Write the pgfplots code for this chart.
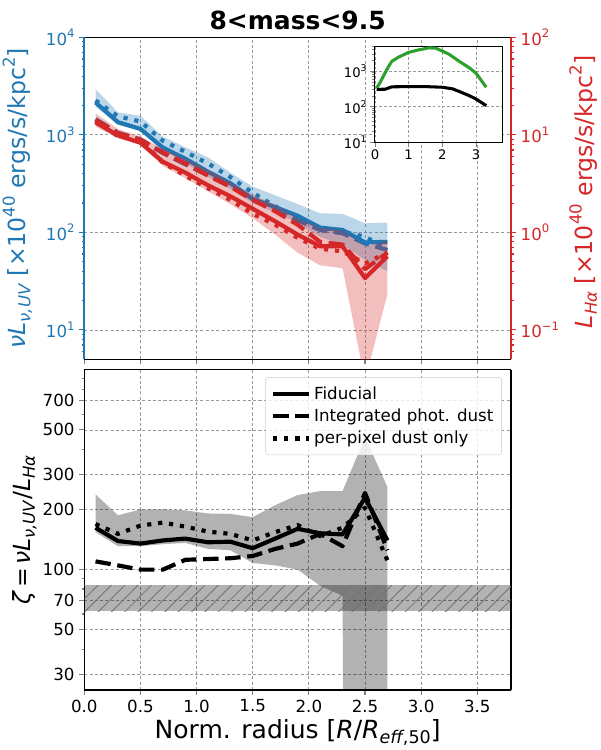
\documentclass[border=0pt]{standalone}
\usepackage{fontspec}
\setmainfont{DejaVu Sans}
\usepackage{pgfplots}
\pgfplotsset{compat=1.18}
\usetikzlibrary{patterns.meta}
\definecolor{tblue}{HTML}{1F77B4}
\definecolor{tred}{HTML}{D62728}
\definecolor{tgreen}{HTML}{2CA02C}
\newcommand\tickfont{\fontsize{12}{14}\selectfont}
\newcommand\labfont{\fontsize{17}{20}\selectfont}
\newcommand\xlabfont{\fontsize{18}{21}\selectfont}
\newcommand\insfont{\fontsize{9.5}{11}\selectfont}
% mathtext-like scripts
\newcommand\lsup[1]{\raisebox{0.45em}{\fontsize{11.9}{12}\selectfont #1}}
\newcommand\lsub[1]{\raisebox{-0.2em}{\fontsize{11.9}{12}\selectfont #1}}
\newcommand\xsub[1]{\raisebox{-0.2em}{\fontsize{12.6}{13}\selectfont #1}}
\newcommand\tsup[1]{\raisebox{0.45em}{\fontsize{8.4}{9}\selectfont #1}}
\newcommand\isup[1]{\raisebox{0.45em}{\fontsize{6.7}{7}\selectfont #1}}
\pgfplotsset{
  common/.style={scale only axis, width=307.2pt, xmin=0, xmax=3.8,
    tick align=outside, major tick length=3.5pt, minor tick length=2pt,
    every tick/.append style={line width=0.8pt},
    /pgf/number format/assume math mode=true,
    tick label style={font=\tickfont},
    separate axis lines,
    axis line style={line width=0.8pt},
    grid style={dash pattern=on 2.2pt off 1.6pt, line width=0.55pt, black!40},
    every axis plot/.append style={line join=round},
  },
  sol/.style={line width=3pt},
  dsh/.style={line width=3pt, dash pattern=on 11.1pt off 4.8pt},
  dot/.style={line width=3pt, dash pattern=on 3pt off 4.95pt},
}
\begin{document}
\begin{tikzpicture}
\path[use as bounding box] (0,0) rectangle (432pt,540pt);

% ---------------- top panel, left (blue) axis
\begin{axis}[common, at={(60.7pt,281.3pt)}, anchor=south west, height=231.8pt,
  ymode=log, ymin=5, ymax=10000,
  xtick={0,0.5,1,1.5,2,2.5,3,3.5}, xticklabels={},
  ytick={10,100,1000,10000},
  yticklabels={10\tsup{1},10\tsup{2},10\tsup{3},10\tsup{4}},
  minor ytick={6,7,8,9,20,30,40,50,60,70,80,90,200,300,400,500,600,700,800,900,2000,3000,4000,5000,6000,7000,8000,9000},
  ytick pos=left, xtick pos=bottom, grid=major,
  y axis line style={draw=tblue, line width=1.5pt},
  every y tick/.append style={draw=tblue},
  yticklabel style={text=tblue},
  ylabel={\textit{νL}\lsub{\textit{ν,UV}} [×10\lsup{40} ergs/s/kpc\lsup{2}]},
  ylabel style={at={(axis description cs:-0.1566,0.5)}, anchor=center, rotate=0, font=\labfont, text=tblue},
  title={8<mass<9.5},
  title style={at={(axis description cs:0.5,0.998)}, anchor=base, font={\fontsize{18}{21}\selectfont\bfseries}},
]
\addplot[draw=none, fill=tblue, fill opacity=0.3, forget plot] coordinates {
(0.1,2950)(0.3,1700)(0.5,1570)(0.7,960)(0.9,745)(1.1,590)(1.3,410)(1.5,295)(1.7,240)(1.9,195)(2.1,157)(2.3,155)(2.5,124)(2.7,126)
(2.7,40)(2.5,52)(2.3,75)(2.1,90)(1.9,125)(1.7,160)(1.5,200)(1.3,280)(1.1,374)(0.9,513)(0.7,700)(0.5,1100)(0.3,1265)(0.1,1950)};
\addplot[sol, tblue] coordinates {
(0.1,2150)(0.3,1350)(0.5,1150)(0.7,740)(0.9,570)(1.1,420)(1.3,320)(1.5,220)(1.7,182)(1.9,148)(2.1,112)(2.3,106)(2.5,79)(2.7,80)};
\addplot[dsh, tblue] coordinates {
(0.1,1450)(0.3,1050)(0.5,900)(0.7,650)(0.9,500)(1.1,385)(1.3,295)(1.5,220)(1.7,172)(1.9,133)(2.1,106)(2.3,98)(2.5,77)(2.7,66)};
\addplot[dot, tblue] coordinates {
(0.1,2250)(0.3,1550)(0.5,1370)(0.7,870)(0.9,670)(1.1,510)(1.3,370)(1.5,255)(1.7,185)(1.9,142)(2.1,112)(2.3,102)(2.5,90)(2.7,69)};
\end{axis}

% ---------------- top panel, right (red) axis
\begin{axis}[common, at={(60.7pt,281.3pt)}, anchor=south west, height=231.8pt,
  ymode=log, ymin=0.05, ymax=100,
  axis x line=none, axis y line*=right,
  ytick={0.1,1,10,100},
  yticklabels={10\tsup{−1},10\tsup{0},10\tsup{1},10\tsup{2}},
  minor ytick={0.06,0.07,0.08,0.09,0.2,0.3,0.4,0.5,0.6,0.7,0.8,0.9,2,3,4,5,6,7,8,9,20,30,40,50,60,70,80,90},
  y axis line style={draw=tred, line width=1.5pt},
  every y tick/.append style={draw=tred},
  yticklabel style={text=tred},
  ylabel={\textit{L}\lsub{\textit{Hα}} [×10\lsup{40} ergs/s/kpc\lsup{2}]},
  ylabel style={at={(axis description cs:1.1695,0.52)}, anchor=center, rotate=0, font=\labfont, text=tred},
]
\addplot[draw=none, fill=tred, fill opacity=0.3, forget plot] coordinates {
(0.1,16.6)(0.3,11.5)(0.5,9.6)(0.7,7.2)(0.9,5.7)(1.1,4.4)(1.3,3.3)(1.5,2.45)(1.7,1.9)(1.9,1.4)(2.1,1.12)(2.3,1.05)(2.5,0.72)(2.7,0.82)
(2.7,0.235)(2.5,0.03)(2.3,0.43)(2.1,0.46)(1.9,0.62)(1.7,0.95)(1.5,1.4)(1.3,1.95)(1.1,2.65)(0.9,3.6)(0.7,4.8)(0.5,7.9)(0.3,9.2)(0.1,12.2)};
\addplot[sol, tred] coordinates {
(0.1,13.4)(0.3,9.9)(0.5,8.3)(0.7,5.3)(0.9,4.1)(1.1,3.05)(1.3,2.35)(1.5,1.75)(1.7,1.3)(1.9,0.95)(2.1,0.72)(2.3,0.72)(2.5,0.34)(2.7,0.57)};
\addplot[dsh, tred] coordinates {
(0.1,14.2)(0.3,10.4)(0.5,8.9)(0.7,6.6)(0.9,5.1)(1.1,3.85)(1.3,2.95)(1.5,2.15)(1.7,1.65)(1.9,1.2)(2.1,0.8)(2.3,0.75)(2.5,0.42)(2.7,0.62)};
\addplot[dot, tred] coordinates {
(0.1,13.8)(0.3,9.7)(0.5,8.9)(0.7,5.2)(0.9,3.8)(1.1,2.85)(1.3,2.15)(1.5,1.55)(1.7,1.2)(1.9,0.88)(2.1,0.68)(2.3,0.64)(2.5,0.48)(2.7,0.62)};
\end{axis}

% ---------------- inset
\begin{axis}[scale only axis, at={(269.5pt,437.5pt)}, anchor=south west, width=92.2pt, height=69.3pt,
  xmin=-0.02, xmax=3.78, ymode=log, ymin=10, ymax=5100,
  tick align=outside, major tick length=3pt, minor tick length=1.7pt,
  every tick/.append style={line width=0.6pt},
  axis line style={line width=0.8pt},
  axis background/.style={fill=white},
  /pgf/number format/assume math mode=true,
  tick label style={font=\insfont},
  xtick={0,1,2,3}, xticklabels={0,1,2,3},
  ytick={10,100,1000}, yticklabels={10\isup{1},10\isup{2},10\isup{3}},
  minor ytick={20,30,40,50,60,70,80,90,200,300,400,500,600,700,800,900,2000,3000,4000,5000},
  xtick pos=bottom, ytick pos=left, grid=major,
  grid style={dash pattern=on 2pt off 1.5pt, line width=0.5pt, black!40},
  xticklabel style={yshift=1pt}, yticklabel style={xshift=1pt},
]
\addplot[tgreen, line width=2.2pt, line join=round] coordinates {
(0.05,340)(0.15,480)(0.3,900)(0.4,1350)(0.5,1900)(0.7,2500)(1.0,3400)(1.3,4000)(1.6,4550)(1.8,4450)(2.0,3700)(2.2,3000)(2.5,1900)(2.8,1250)(3.0,880)(3.3,355)};
\addplot[black, line width=2.2pt, line join=round] coordinates {
(0.05,310)(0.3,312)(0.5,365)(1.0,370)(1.5,370)(2.0,355)(2.3,320)(2.5,270)(2.8,205)(3.0,165)(3.3,108)};
\end{axis}

% ---------------- bottom panel
\begin{axis}[common, at={(60.7pt,43.2pt)}, anchor=south west, height=230.6pt,
  ymode=log, ymin=25, ymax=1000,
  xtick={0,0.5,1,1.5,2,2.5,3,3.5}, xticklabels={0.0,0.5,1.0,1.5,2.0,2.5,3.0,3.5},
  ytick={30,50,70,100,200,300,500,700}, yticklabels={30,50,70,100,200,300,500,700},
  minor ytick={40,60,80,90,400,600,800,900},
  ytick pos=left, xtick pos=bottom, grid=major,
  xlabel={Norm. radius [\textit{R}/\textit{R}\xsub{\textit{eff},50}]},
  xlabel style={at={(axis description cs:0.5,-0.134)}, anchor=center, font=\xlabfont},
  ylabel={\textit{ζ}\hspace{0.12em}=\hspace{0.12em}\textit{νL}\lsub{\textit{ν,UV}}/\textit{L}\lsub{\textit{Hα}}},
  ylabel style={at={(axis description cs:-0.14,0.5)}, anchor=center, rotate=0, font=\labfont},
  legend style={font=\tickfont, at={(0.979,0.977)}, anchor=north east, draw=black!20, fill=white, fill opacity=0.8, text opacity=1, rounded corners=2pt, inner xsep=4pt, inner ysep=4.5pt, row sep=1.5pt},
  legend cell align=left,
  legend image code/.code={\draw[#1] (0pt,0pt) -- (26pt,0pt);},
]
\addplot[draw=none, fill=black, fill opacity=0.3, forget plot] coordinates {
(0.1,238)(0.3,187)(0.5,200)(0.7,200)(0.9,198)(1.1,191)(1.3,190)(1.5,183)(1.7,210)(1.9,236)(2.1,247)(2.3,247)(2.5,460)(2.7,259)
(2.7,1e-20)(2.5,1e-20)(2.3,74)(2.1,83)(1.9,100)(1.7,105)(1.5,108)(1.3,125)(1.1,127)(0.9,136)(0.7,134)(0.5,131)(0.3,131)(0.1,154)};
\addplot[draw=none, fill=black, fill opacity=0.3, forget plot] coordinates {(0,62)(3.8,62)(3.8,83.5)(0,83.5)};
\addplot[draw=none, pattern={Lines[angle=45,distance=6.8pt,line width=0.6pt]}, pattern color=black!55, forget plot] coordinates {(0,62)(3.8,62)(3.8,83.5)(0,83.5)};
\addplot[sol, black] coordinates {
(0.1,162)(0.3,139)(0.5,135)(0.7,140)(0.9,143)(1.1,137)(1.3,138)(1.5,128)(1.7,143)(1.9,160)(2.1,152)(2.3,150)(2.5,229)(2.7,140)};
\addlegendentry{Fiducial}
\addplot[dsh, black] coordinates {
(0.1,110)(0.3,105)(0.5,100)(0.7,100)(0.9,112)(1.1,113)(1.3,114)(1.5,117)(1.7,127)(1.9,135)(2.1,151)(2.3,131)(2.5,242)(2.7,125)};
\addlegendentry{Integrated phot. dust}
\addplot[dot, black] coordinates {
(0.1,169)(0.3,151)(0.5,166)(0.7,172)(0.9,164)(1.1,155)(1.3,151)(1.5,140)(1.7,154)(1.9,167)(2.1,147)(2.3,162)(2.5,204)(2.7,111)};
\addlegendentry{per-pixel dust only}
\end{axis}
\end{tikzpicture}
\end{document}
